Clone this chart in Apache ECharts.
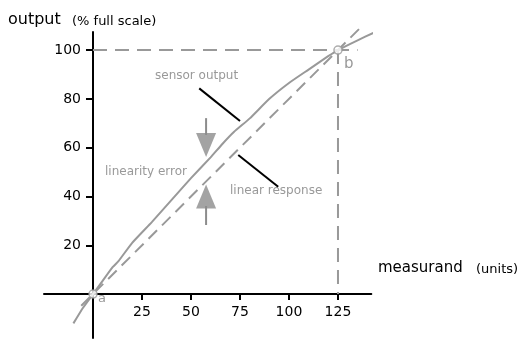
<!DOCTYPE html>
<html>
<head>
<meta charset="utf-8">
<script src="https://cdn.jsdelivr.net/npm/echarts@6/dist/echarts.min.js"></script>
<style>html,body{margin:0;padding:0;background:#fff}#c{width:532px;height:339px}</style>
</head>
<body>
<div id="c"></div>
<script>
// ---- data ----
const xTicks = [25, 50, 75, 100, 125];
const yTicks = [20, 40, 60, 80, 100];
const sensorX = [-10, -5, 0, 5, 10, 13, 20, 30, 40, 50, 60, 66, 72, 80, 90, 100, 110, 120, 125, 135, 143];
const sensorY = [-12, -5.5, 0, 5.5, 11, 13.5, 21, 29.5, 38.5, 47.5, 56, 61.5, 66.5, 72, 80, 86.5, 92, 97.5, 100, 104, 107];
const linearX = [-6, 136];
const linearY = [-4.8, 108.8];
const refHX = [0, 135];
const refHY = [100, 100];
const refVX = [125, 125];
const refVY = [100, 0];
const markX = [0, 125];
const markY = [0, 100];
const arrowX = 57.7;
const downShaftY = [72.1, 65.2];
const downHeadY = 61.1;
const upShaftY = [36.1, 28.3];
const upHeadY = 40.0;
const leaderSensorX = [54.2, 75];
const leaderSensorY = [84.3, 70.9];
const leaderLinearX = [74.1, 94.5];
const leaderLinearY = [57.0, 44.0];

const zip = (xs, ys) => xs.map((x, i) => [x, ys[i]]);
const GRAY = '#999999';
const AGRAY = '#8c8c8c';
const FONT = 'DejaVu Sans';

// layout
const G = { left: 44, top: 32, width: 327.3, height: 306 };
const X_MIN = -25, X_MAX = 142, Y_MIN = -18, Y_MAX = 107.4;
const xZeroPx = G.left + (0 - X_MIN) / (X_MAX - X_MIN) * G.width;
const yZeroPx = G.top + (Y_MAX - 0) / (Y_MAX - Y_MIN) * G.height;

const chart = echarts.init(document.getElementById('c'));
chart.setOption({
  animation: false,
  grid: Object.assign({ containLabel: false, outerBoundsMode: 'none' }, G),
  xAxis: {
    type: 'value', min: X_MIN, max: X_MAX, position: 'bottom',
    offset: -(G.top + G.height - yZeroPx),
    splitLine: { show: false },
    axisLine: { onZero: false, lineStyle: { color: '#000', width: 2 } },
    axisTick: { show: true, customValues: xTicks, length: 6, lineStyle: { color: '#000', width: 2 } },
    axisLabel: { customValues: xTicks, color: '#000', fontFamily: FONT, fontSize: 14, margin: 11 }
  },
  yAxis: {
    type: 'value', min: Y_MIN, max: Y_MAX, position: 'left',
    offset: -(xZeroPx - G.left),
    splitLine: { show: false },
    axisLine: { onZero: false, lineStyle: { color: '#000', width: 2 } },
    axisTick: { show: true, customValues: yTicks, length: 7, lineStyle: { color: '#000', width: 2 } },
    axisLabel: { customValues: yTicks, color: '#000', fontFamily: FONT, fontSize: 14, margin: 12 }
  },
  series: [
    { type: 'line', data: zip(refHX, refHY), symbol: 'none', clip: false,
      lineStyle: { color: GRAY, width: 2, type: [14, 8] } },
    { type: 'line', data: zip(refVX, refVY), symbol: 'none', clip: false,
      lineStyle: { color: GRAY, width: 2, type: [14, 8] } },
    { type: 'line', data: zip(linearX, linearY), symbol: 'none', clip: false,
      lineStyle: { color: GRAY, width: 2, type: [12, 7] } },
    { type: 'line', data: zip(sensorX, sensorY), symbol: 'none', clip: false, smooth: 0.15,
      lineStyle: { color: GRAY, width: 2 } },
    { type: 'line', data: zip(leaderSensorX, leaderSensorY), symbol: 'none', clip: false,
      lineStyle: { color: '#000', width: 2 } },
    { type: 'line', data: zip(leaderLinearX, leaderLinearY), symbol: 'none', clip: false,
      lineStyle: { color: '#000', width: 2 } },
    { type: 'line', data: zip([arrowX, arrowX], downShaftY), symbol: 'none', clip: false,
      lineStyle: { color: AGRAY, width: 2 } },
    { type: 'line', data: zip([arrowX, arrowX], upShaftY), symbol: 'none', clip: false,
      lineStyle: { color: AGRAY, width: 2 } },
    { type: 'scatter', data: [[arrowX, downHeadY]], symbol: 'triangle', symbolRotate: 180,
      symbolSize: [20, 24], itemStyle: { color: AGRAY }, clip: false },
    { type: 'scatter', data: [[arrowX, upHeadY]], symbol: 'triangle',
      symbolSize: [20, 24], itemStyle: { color: AGRAY }, clip: false },
    { type: 'scatter', data: zip(markX, markY), symbol: 'circle', symbolSize: 8, z: 10, clip: false,
      itemStyle: { color: '#fff', borderColor: GRAY, borderWidth: 1.5 } }
  ],
  graphic: [
    { type: 'text', left: 8, top: 12, style: { text: 'output', font: '16px "DejaVu Sans"', fill: '#000' } },
    { type: 'text', left: 72, top: 15, style: { text: '(% full scale)', font: '13px "DejaVu Sans"', fill: '#000' } },
    { type: 'text', left: 378, top: 261, style: { text: 'measurand', font: '15px "DejaVu Sans"', fill: '#000' } },
    { type: 'text', left: 476, top: 263, style: { text: '(units)', font: '13px "DejaVu Sans"', fill: '#000' } },
    { type: 'text', left: 155, top: 70, style: { text: 'sensor output', font: '12px "DejaVu Sans"', fill: GRAY } },
    { type: 'text', left: 105, top: 166, style: { text: 'linearity error', font: '12px "DejaVu Sans"', fill: GRAY } },
    { type: 'text', left: 230, top: 185, style: { text: 'linear response', font: '12px "DejaVu Sans"', fill: GRAY } },
    { type: 'text', left: 98, top: 292, style: { text: 'a', font: '13px "DejaVu Sans"', fill: GRAY } },
    { type: 'text', left: 344, top: 57, style: { text: 'b', font: '15px "DejaVu Sans"', fill: GRAY } }
  ]
});
</script>
</body>
</html>
